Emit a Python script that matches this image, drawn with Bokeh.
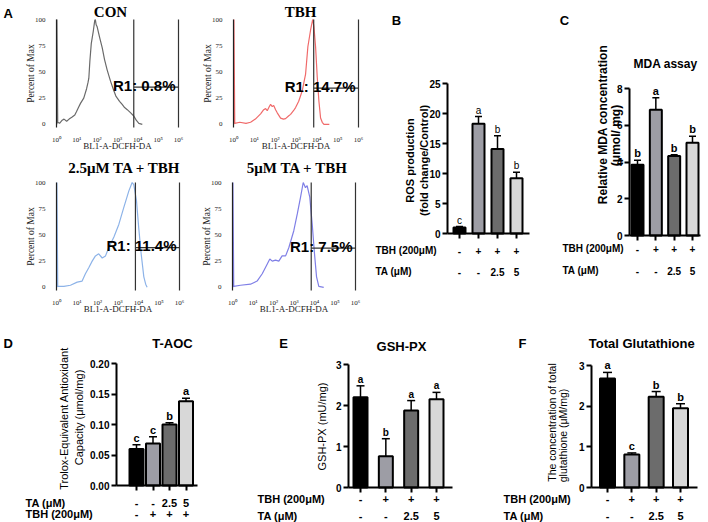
import numpy as np
from bokeh.plotting import figure
from bokeh.models import (ColumnDataSource, Range1d, FixedTicker, LinearAxis, Label, LabelSet,
                          Whisker, TeeHead, NumeralTickFormatter)
from bokeh.embed import file_html
from bokeh.resources import INLINE
from bokeh.core.properties import value

SANS = "Liberation Sans"
SERIF = "Liberation Serif"

# ---------------- data ----------------
tbh_row = ["-", "+", "+", "+"]
ta_row = ["-", "-", "2.5", "5"]
bar_colors = ["#000000", "#9d9da5", "#6c6c6c", "#d8d8d8"]

ros_mean = [1.0, 18.3, 14.1, 9.2]
ros_err = [0.15, 1.2, 2.2, 1.0]
ros_letters = ["c", "a", "b", "b"]

mda_mean = [3.85, 6.85, 4.32, 5.05]
mda_err = [0.25, 0.65, 0.08, 0.35]
mda_letters = ["b", "a", "b", "b"]

taoc_mean = [0.060, 0.069, 0.100, 0.138]
taoc_err = [0.007, 0.011, 0.003, 0.005]
taoc_letters = ["c", "c", "b", "a"]

gpx_mean = [2.20, 0.76, 1.88, 2.15]
gpx_err = [0.28, 0.43, 0.24, 0.17]
gpx_letters = ["a", "b", "a", "a"]

gsh_mean = [2.68, 0.81, 2.23, 1.95]
gsh_err = [0.15, 0.04, 0.13, 0.11]
gsh_letters = ["a", "c", "b", "b"]

# flow histograms: log10(fluorescence) and percent of max
con_log = [0.02, 0.02, 0.06, 0.15, 0.28, 0.37, 0.5, 0.62, 0.77, 0.9, 0.98, 1.08, 1.18, 1.34, 1.48, 1.55,
           1.59, 1.64, 1.71, 1.81, 1.88, 1.91, 1.95, 2.0, 2.12, 2.25, 2.36, 2.49, 2.66, 2.82, 2.92, 2.99,
           3.1, 3.23, 3.35, 3.48, 3.65, 3.80, 3.92, 4.05, 4.22]
con_pct = [0, 100, 2, 1, 4, 5, 3, 5, 7, 9, 12, 16, 20, 25, 34, 40,
           44, 60, 77, 89, 99, 100, 95, 93, 83, 73, 62, 52, 41, 32, 27, 25,
           22, 19, 16, 14, 11, 8, 4, 1, 0]
tbh_log = [0.02, 0.02, 0.06, 0.3, 0.6, 0.82, 1.05, 1.30, 1.45, 1.54, 1.62, 1.72, 1.78, 1.86, 1.93, 2.02,
           2.10, 2.26, 2.40, 2.50, 2.64, 2.74, 2.88, 2.98, 3.13, 3.30, 3.38, 3.46, 3.57, 3.70, 3.79, 3.81,
           3.86, 3.94, 4.02, 4.10, 4.18, 4.26, 4.34, 4.6]
tbh_pct = [0, 100, 1, 2, 1, 2, 5, 10, 14, 15, 13, 17, 19, 17, 18, 14,
           11, 6, 5, 5.5, 8, 9.5, 13, 16, 22, 32, 40, 48, 74, 90, 99, 100,
           93, 74, 45, 22, 6, 2, 0, 0]
ta25_log = [0.02, 0.02, 0.06, 0.36, 0.68, 1.01, 1.25, 1.41, 1.58, 1.74, 1.9, 2.06, 2.23, 2.39, 2.55, 2.8,
            3.04, 3.28, 3.53, 3.69, 3.77, 3.9, 4.01, 4.13, 4.26, 4.35, 4.42]
ta25_pct = [0, 100, 1, 1, 2, 5, 6, 13, 19, 25, 30, 32, 28, 30, 38, 48,
            60, 76, 92, 100, 98, 83, 57, 32, 10, 3, 0]
ta5_log = [0.02, 0.02, 0.06, 0.39, 0.88, 1.2, 1.45, 1.69, 1.82, 1.94, 2.1, 2.26, 2.42, 2.59, 2.75, 2.99,
           3.16, 3.32, 3.45, 3.56, 3.64, 3.77, 3.89, 4.0, 4.1, 4.21, 4.45]
ta5_pct = [0, 100, 1, 2, 3, 6, 13, 22, 27, 25, 26, 25, 30, 30, 38, 54,
           70, 86, 100, 95, 97, 86, 60, 32, 10, 1, 0]
flow_titles = ["CON", "TBH", "2.5\u03bcM TA + TBH", "5\u03bcM TA + TBH"]
flow_gate_log = [3.80, 3.85, 3.85, 3.84]
flow_gate_pct = [35.6, 34.6, 37.8, 37.5]
flow_r1 = ["R1: 0.8%", "R1: 14.7%", "R1: 11.4%", "R1: 7.5%"]
flow_colors = ["#6a6a6a", "#f06a6a", "#8db3e8", "#7f7fe6"]
flow_yticks = [0, 25, 50, 75, 100]
flow_xticks = [0, 1, 2, 3, 4, 5, 6]          # decades
flow_xlabels = ["10\u2070", "10\u00b9", "10\u00b2", "10\u00b3", "10\u2074", "10\u2075", "10\u2076"]
flow_xlim = (0, 6)
flow_ylim = (-3, 100)

# ---------------- canvas (pixel coordinates of the picture) ----------------
W, H = 708, 522
PX0, PY0 = 0, 0
PX1, PY1 = PX0 + W, PY0 + H

p = figure(width=W, height=H, x_range=Range1d(PX0, PX1), y_range=Range1d(PY1, PY0),
           x_axis_location=None, y_axis_location=None, output_backend="svg",
           toolbar_location=None, min_border=0)
p.grid.visible = False
p.outline_line_color = None
p.background_fill_color = "white"
p.border_fill_color = "white"


def rng(d0, p0, d1, p1, lo, hi):
    k = (d1 - d0) / (p1 - p0)
    return Range1d(d0 + (lo - p0) * k, d0 + (hi - p0) * k)


def txt(x, y, text, size, font=SANS, style="bold", align="center", baseline="middle",
        angle=0.0, color="black"):
    p.add_layout(Label(x=x, y=y, text=text, text_font=font, text_font_size=f"{size}px",
                       text_font_style=style, text_align=align, text_baseline=baseline,
                       angle=angle, text_color=color))


PI2 = np.pi / 2


def flow_panel(i, name, frame, logs, pct, title_xy):
    fx0, fy0, fx1, fy1 = frame
    p.extra_x_ranges[name] = rng(flow_xlim[0], fx0, flow_xlim[1], fx1, PX0, PX1)
    p.extra_y_ranges[name] = rng(flow_ylim[0], fy1, flow_ylim[1], fy0, PY1, PY0)
    kw = dict(x_range_name=name, y_range_name=name)
    p.line(x=logs, y=pct, line_color=flow_colors[i], line_width=1.2, **kw)
    g, gy = flow_gate_log[i], flow_gate_pct[i]
    p.segment(x0=[g, g], y0=[flow_ylim[0], gy], x1=[g, flow_xlim[1]], y1=[flow_ylim[1], gy],
              line_color="#333333", line_width=1.2, **kw)
    ya = LinearAxis(fixed_location=flow_xlim[0], bounds=flow_ylim, ticker=FixedTicker(ticks=flow_yticks),
                    axis_line_color="#222222", axis_line_width=1.2, major_tick_line_color=None,
                    minor_tick_line_color=None, major_label_text_font=SERIF,
                    major_label_text_font_size="7px", major_label_text_color="#222222",
                    major_label_standoff=5, **kw)
    p.add_layout(ya, "left")
    ra = LinearAxis(fixed_location=flow_xlim[1], bounds=flow_ylim, ticker=FixedTicker(ticks=[]),
                    axis_line_color="#333333", axis_line_width=1.2, major_tick_line_color=None,
                    minor_tick_line_color=None, **kw)
    p.add_layout(ra, "right")
    xa = LinearAxis(fixed_location=flow_ylim[0], bounds=flow_xlim, ticker=FixedTicker(ticks=flow_xticks),
                    major_label_overrides={t: s for t, s in zip(flow_xticks, flow_xlabels)},
                    axis_line_color=None, major_tick_line_color=None, minor_tick_line_color=None,
                    major_label_text_font=SERIF, major_label_text_font_size="7px",
                    major_label_text_color="#222222", major_label_standoff=2, **kw)
    p.add_layout(xa, "below")
    p.add_layout(Label(x=fx1 - 3, y=gy, y_range_name=name, y_offset=2, text=flow_r1[i],
                       text_font=SANS, text_font_size="15px", text_font_style="bold",
                       text_align="right", text_baseline="alphabetic", text_color="black"))
    txt(title_xy[0], title_xy[1], flow_titles[i], 15, font=SERIF)
    txt(fx0 - 26, (fy0 + fy1) / 2, "Percent of Max", 9.5, font=SERIF, style="normal",
        angle=PI2, color="#222222")
    txt((fx0 + fx1) / 2, fy1 + 18, "BL1-A-DCFH-DA", 9, font=SERIF, style="normal", color="#222222")


def bar_panel(name, c1, c4, axis_x, axis_end, y0_px, ytop, ytop_px, yticks, mean, err, letters,
              bar_w_px, tick_px=10, letter_px=10, letter_style="bold", tee=8, fmt=None):
    p.extra_x_ranges[name] = rng(1, c1, 4, c4, PX0, PX1)
    p.extra_y_ranges[name] = rng(0, y0_px, ytop, ytop_px, PY1, PY0)
    kw = dict(x_range_name=name, y_range_name=name)
    sp = (c4 - c1) / 3.0
    xloc = 1 + (axis_x - c1) / sp
    xend = 1 + (axis_end - c1) / sp
    xs = [i + 1 for i in range(len(mean))]
    hi = [m + e for m, e in zip(mean, err)]
    src = ColumnDataSource(dict(x=xs, top=mean, hi=hi, color=bar_colors, letter=letters))
    p.vbar(x="x", top="top", bottom=0, width=bar_w_px / sp, source=src, fill_color="color",
           line_color="black", line_width=2, **kw)
    p.add_layout(Whisker(source=src, base="x", lower="top", upper="hi", dimension="height",
                         line_color="black", line_width=1.5, lower_head=None,
                         upper_head=TeeHead(size=tee, line_color="black", line_width=1.5),
                         level="annotation", **kw))
    p.add_layout(LabelSet(source=src, x="x", y="hi", text="letter", y_offset=1,
                          text_align="center", text_baseline="bottom",
                          text_font=value(SANS), text_font_size=f"{letter_px}px",
                          text_font_style=letter_style, text_color="black", **kw))
    ya = LinearAxis(fixed_location=xloc, bounds=(0, ytop), ticker=FixedTicker(ticks=yticks),
                    axis_line_width=2, axis_line_color="black", major_tick_line_width=2,
                    major_tick_line_color="black", major_tick_out=5, major_tick_in=0,
                    minor_tick_line_color=None, major_label_text_font=SANS,
                    major_label_text_font_size=f"{tick_px}px", major_label_text_font_style="bold",
                    major_label_text_color="black", major_label_standoff=2, **kw)
    if fmt is not None:
        ya.formatter = NumeralTickFormatter(format=fmt)
    p.add_layout(ya, "left")
    xa = LinearAxis(fixed_location=0, bounds=(xloc, xend), ticker=FixedTicker(ticks=xs),
                    major_label_overrides={x: "" for x in xs},
                    axis_line_width=2, axis_line_color="black", major_tick_line_width=2,
                    major_tick_line_color="black", major_tick_out=5, major_tick_in=0,
                    minor_tick_line_color=None, **kw)
    p.add_layout(xa, "below")
    return xs


def add_rows(name, xs, rows, header_x, size):
    for head, vals, py in rows:
        txt(header_x, py, head, size, align="left")
        src = ColumnDataSource(dict(x=xs, t=vals))
        p.add_layout(LabelSet(source=src, x="x", y=py, text="t", x_range_name=name,
                              text_align="center", text_baseline="middle",
                              text_font=value(SANS), text_font_size=f"{size}px",
                              text_font_style="bold", text_color="black"))


# ---------------- panel A (flow cytometry) ----------------
flow_panel(0, "con", (56, 19, 178, 127), con_log, con_pct, (110, 11))
flow_panel(1, "tbh", (233, 19, 358, 127), tbh_log, tbh_pct, (300, 11))
flow_panel(2, "ta25", (56, 182, 179, 290), ta25_log, ta25_pct, (124, 167))
flow_panel(3, "ta5", (232, 182, 355, 290), ta5_log, ta5_pct, (297, 167))
txt(3, 13, "A", 13, align="left")

# ---------------- panel B (ROS) ----------------
xs = bar_panel("ros", 459, 516, 447, 529, 233, 25, 83, [0, 5, 10, 15, 20, 25],
               ros_mean, ros_err, ros_letters, 12, letter_style="normal", tee=7)
txt(396, 20, "B", 13)
txt(409, 160, "ROS production", 11, angle=PI2)
txt(423, 160, "(fold change/Control)", 11, angle=PI2)
add_rows("ros", xs, [("TBH (200\u03bcM)", tbh_row, 250), ("TA (\u03bcM)", ta_row, 271)], 375, 10)

# ---------------- panel C (MDA) ----------------
xs = bar_panel("mda", 637, 692, 629, 700, 235, 8, 88, [0, 2, 4, 6, 8],
               mda_mean, mda_err, mda_letters, 12, letter_px=11, tee=7)
txt(564, 20, "C", 13)
txt(665, 63, "MDA assay", 12)
txt(602, 124, "Relative MDA concentration", 12, angle=PI2)
txt(615, 135, "(\u03bcmol/ mg)", 12, angle=PI2)
add_rows("mda", xs, [("TBH (200\u03bcM)", tbh_row, 248), ("TA (\u03bcM)", ta_row, 270)], 562, 10)

# ---------------- panel D (T-AOC) ----------------
xs = bar_panel("taoc", 136, 185.5, 116, 197, 485, 0.2, 363, [0.0, 0.05, 0.10, 0.15, 0.20],
               taoc_mean, taoc_err, taoc_letters, 14, letter_px=11, tee=8, fmt="0.00")
txt(3, 343, "D", 13, align="left")
txt(172, 343, "T-AOC", 13)
txt(63, 418, "Trolox-Equivalent Antioxidant", 11, style="normal", angle=PI2)
txt(78, 417, "Capacity (\u03bcmol/mg)", 11, style="normal", angle=PI2)
add_rows("taoc", xs, [("TA (\u03bcM)", ta_row, 502), ("TBH (200\u03bcM)", tbh_row, 513)], 25, 11)

# ---------------- panel E (GSH-PX) ----------------
xs = bar_panel("gpx", 360, 436, 348, 452, 487, 3, 364, [0, 1, 2, 3],
               gpx_mean, gpx_err, gpx_letters, 14, letter_px=10, tee=8)
txt(283, 343, "E", 13)
txt(401, 346, "GSH-PX", 13)
txt(321, 426, "GSH-PX (mU/mg)", 11, style="normal", angle=PI2)
add_rows("gpx", xs, [("TBH (200\u03bcM)", tbh_row, 498), ("TA (\u03bcM)", ta_row, 515)], 257, 11)

# ---------------- panel F (total glutathione) ----------------
xs = bar_panel("gsh", 607, 680, 591, 697, 487, 3, 365, [0, 1, 2, 3],
               gsh_mean, gsh_err, gsh_letters, 15, letter_px=11, tee=9)
txt(522, 343, "F", 13)
txt(643, 343, "Total  Glutathione", 13)
txt(551, 422, "The concentration of total", 10.5, style="normal", angle=PI2)
txt(562, 435, "glutathione (\u03bcM/mg)", 10.5, style="normal", angle=PI2)
add_rows("gsh", xs, [("TBH (200\u03bcM)", tbh_row, 498), ("TA (\u03bcM)", ta_row, 515)], 503, 11)

open("out.html", "w").write(file_html(p, INLINE))
